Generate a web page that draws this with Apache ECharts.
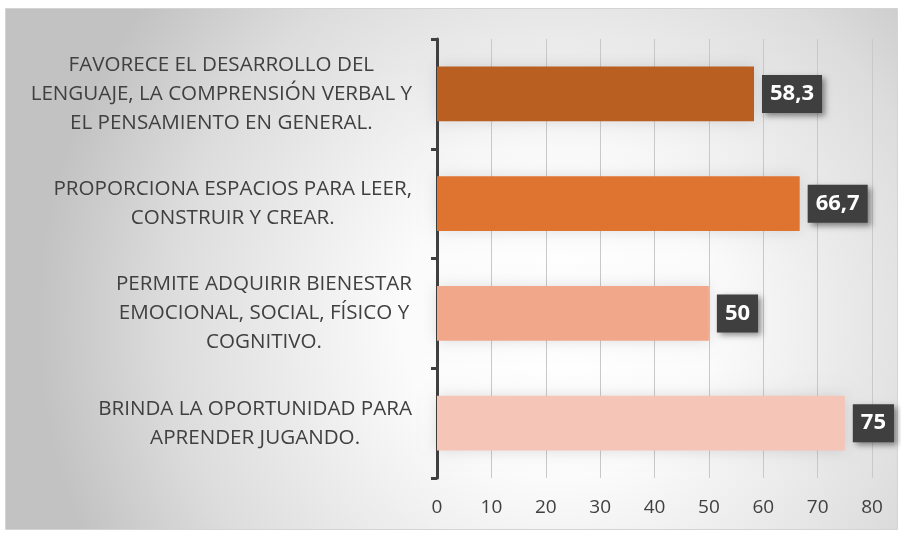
<!DOCTYPE html>
<html><head><meta charset="utf-8">
<script src="https://cdn.jsdelivr.net/npm/echarts@6/dist/echarts.min.js"></script>
<style>html,body{margin:0;padding:0;background:#fff}#c{width:901px;height:533px}</style>
</head><body><div id="c"></div>
<script>
const categories = [
  ["FAVORECE EL DESARROLLO DEL", "LENGUAJE, LA COMPRENSIÓN VERBAL Y", "EL PENSAMIENTO EN GENERAL."],
  ["PROPORCIONA ESPACIOS PARA LEER,", "CONSTRUIR Y CREAR."],
  ["PERMITE ADQUIRIR BIENESTAR", "EMOCIONAL, SOCIAL, FÍSICO Y", "COGNITIVO."],
  ["BRINDA LA OPORTUNIDAD PARA", "APRENDER JUGANDO."]
];
const values = [58.3, 66.7, 50, 75];
const barColors = ["#BA5F22", "#DE7430", "#F0A78A", "#F5C6B7"];
const xTicks = [0, 10, 20, 30, 40, 50, 60, 70, 80];

const FONT = "Open Sans";
const chart = echarts.init(document.getElementById('c'), null, {renderer: 'canvas'});
chart.setOption({
  animation: false,
  graphic: [{
    type: 'rect', z: -10, silent: true,
    shape: {x: 5.5, y: 8.5, width: 892, height: 521},
    style: {
      fill: {type: 'radial', x: 0.62, y: 0.6, r: 1.0,
        colorStops: [{offset: 0, color: '#ffffff'}, {offset: 0.3, color: '#fbfbfb'}, {offset: 0.75, color: '#dcdcdc'}, {offset: 1, color: '#c2c2c2'}]},
      stroke: '#d4d4d4', lineWidth: 1
    }
  }],
  grid: {left: 437, right: 29, top: 39, bottom: 55, containLabel: false},
  xAxis: {
    type: 'value', min: 0, max: 80, interval: 10,
    axisLine: {show: false}, axisTick: {show: false},
    splitLine: {show: true, lineStyle: {color: '#c9c9c9', width: 1}},
    axisLabel: {color: '#404040', fontFamily: FONT, fontSize: 19, margin: 20,
      formatter: v => xTicks.includes(v) ? String(v) : ''}
  },
  yAxis: {
    type: 'category', inverse: true,
    data: categories.map(l => l.join('\n')),
    axisLine: {show: true, lineStyle: {color: '#404040', width: 3}},
    axisTick: {show: true, length: 6, lineStyle: {color: '#404040', width: 3}},
    splitLine: {show: false},
    axisLabel: {
      margin: 25, color: '#404040', fontFamily: FONT, fontSize: 20.6, lineHeight: 29,
      formatter: v => v.split('\n').map(s => '{c|' + s + '}').join('\n'),
      rich: {c: {align: 'center', color: '#404040', fontFamily: FONT, fontSize: 20.6, lineHeight: 29}}
    }
  },
  series: [{
    type: 'bar', barWidth: '50%',
    data: values.map((v, i) => ({value: v, itemStyle: {color: barColors[i]}})),
    itemStyle: {shadowColor: 'rgba(0,0,0,0.12)', shadowBlur: 14},
    label: {
      show: true, position: 'right', distance: 8,
      formatter: p => String(p.value).replace('.', ','),
      color: '#ffffff', fontFamily: FONT, fontWeight: 'bold', fontSize: 22,
      backgroundColor: '#3f3f3f', padding: [9, 8, 7, 8],
      shadowColor: 'rgba(0,0,0,0.45)', shadowBlur: 6, shadowOffsetX: 3, shadowOffsetY: 3
    }
  }]
});
</script></body></html>
